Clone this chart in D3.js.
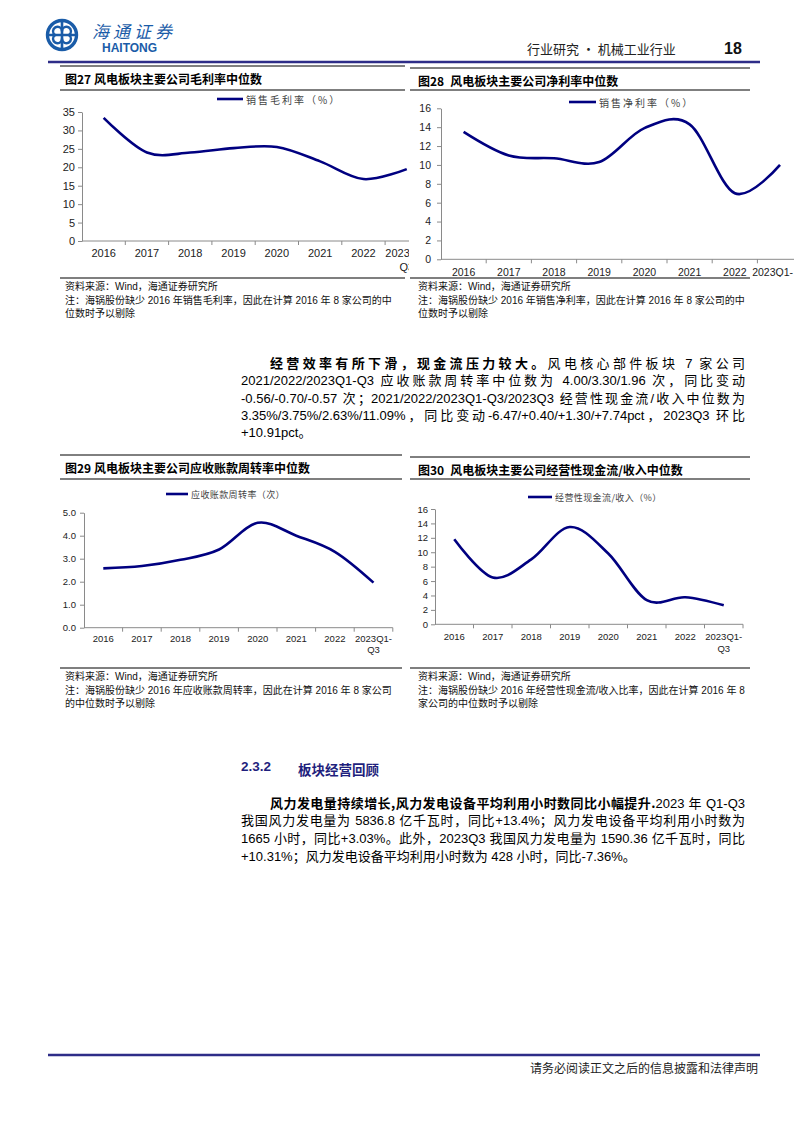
<!DOCTYPE html>
<html><head><meta charset="utf-8">
<script src="https://cdn.jsdelivr.net/npm/d3@7"></script>
<style>
body{margin:0;width:794px;height:1123px;position:relative;background:#fff;overflow:hidden;
 font-family:"Liberation Sans",Arial,"Noto Sans CJK SC",sans-serif;}
svg{position:absolute;left:0;top:0}
.ln{position:absolute;left:241px;width:504px;height:18px;line-height:18px;font-size:13px;
 text-align:justify;text-align-last:justify;color:#000;white-space:normal}
.ln.last{text-align-last:left}
.b{font-weight:700;font-family:"Noto Sans CJK SC",sans-serif}
.h{position:absolute;font-size:13.5px;font-weight:700;color:#1f1f7d;font-family:"Liberation Sans","Noto Sans CJK SC",sans-serif}
</style></head><body>
<svg id="page" width="794" height="1123"></svg>

<div class="ln" style="top:354px;left:270px;width:475px"><span class="b">经营效率有所下滑，现金流压力较大。</span>风电核心部件板块 7 家公司</div>
<div class="ln" style="top:372px">2021/2022/2023Q1-Q3 应收账款周转率中位数为 4.00/3.30/1.96 次，同比变动</div>
<div class="ln" style="top:390px">-0.56/-0.70/-0.57 次；2021/2022/2023Q1-Q3/2023Q3 经营性现金流/收入中位数为</div>
<div class="ln" style="top:407px">3.35%/3.75%/2.63%/11.09%，同比变动-6.47/+0.40/+1.30/+7.74pct，2023Q3 环比</div>
<div class="ln last" style="top:424px">+10.91pct。</div>

<div class="h" style="left:241px;top:759px">2.3.2</div>
<div class="h" style="left:298px;top:759px">板块经营回顾</div>

<div class="ln" style="top:794px;left:270px;width:475px"><span class="b">风力发电量持续增长,风力发电设备平均利用小时数同比小幅提升.</span>2023 年 Q1-Q3</div>
<div class="ln" style="top:812px">我国风力发电量为 5836.8 亿千瓦时，同比+13.4%；风力发电设备平均利用小时数为</div>
<div class="ln" style="top:830px">1665 小时，同比+3.03%。此外，2023Q3 我国风力发电量为 1590.36 亿千瓦时，同比</div>
<div class="ln last" style="top:848px">+10.31%；风力发电设备平均利用小时数为 428 小时，同比-7.36%。</div>

<script>
// ---------- data ----------
const categories = ["2016","2017","2018","2019","2020","2021","2022","2023Q1-Q3"];
const grossMargin = [33.4, 24.0, 24.0, 25.2, 25.5, 21.6, 16.8, 19.5];
const netMargin = [13.5, 11.0, 10.7, 10.3, 13.9, 14.3, 7.0, 10.0];
const arTurnover = [2.58, 2.68, 2.95, 3.40, 4.56, 4.00, 3.30, 1.96];
const cashflowRatio = [11.8, 6.5, 9.0, 13.5, 9.82, 3.35, 3.75, 2.63];
const ticks27 = [0,5,10,15,20,25,30,35];
const ticks28 = [0,2,4,6,8,10,12,14,16];
const ticks29 = [0,1,2,3,4,5];
const ticks30 = [0,2,4,6,8,10,12,14,16];

const svg = d3.select("#page");
const BLUE = "#2e2d88", LINE = "#000080", AX = "#8a8a8a";
const CJK = "'Noto Sans CJK SC',sans-serif";
const LAT = "'Liberation Sans',Arial,'Noto Sans CJK SC',sans-serif";

// ---------- header ----------
const logo = svg.append("g").attr("fill","none").attr("stroke","#1a5ca8").attr("stroke-linecap","round");
logo.append("circle").attr("cx",62).attr("cy",35).attr("r",14.5).attr("stroke-width",3.4);
logo.append("path").attr("d","M50,35 H74").attr("stroke-width",2.6);
logo.append("path").attr("d","M62,22 V48").attr("stroke-width",2.6);
logo.append("path").attr("d","M55,35 a4.5,4.5 0 1 1 7,-4").attr("stroke-width",2.4);
logo.append("path").attr("d","M69,35 a4.5,4.5 0 1 1 -7,4").attr("stroke-width",2.4);
logo.append("path").attr("d","M55,35 a4.5,4.5 0 1 0 7,4").attr("stroke-width",2.4);
logo.append("path").attr("d","M69,35 a4.5,4.5 0 1 0 -7,-4").attr("stroke-width",2.4);
svg.append("text").attr("x",92).attr("y",38).attr("font-family",CJK).attr("font-size",17)
  .attr("font-style","italic").attr("letter-spacing",4).attr("fill","#1a5ca8").text("海通证券");
svg.append("text").attr("x",102).attr("y",52).attr("font-family",LAT).attr("font-size",12)
  .attr("font-weight",700).attr("fill","#1a5ca8").text("HAITONG");
svg.append("text").attr("x",527).attr("y",54).attr("font-family",CJK).attr("font-size",13)
  .attr("fill","#222").text("行业研究 · 机械工业行业");
svg.append("text").attr("x",724).attr("y",54).attr("font-family",LAT).attr("font-size",16)
  .attr("font-weight",700).attr("fill","#111").text("18");
svg.append("line").attr("x1",48).attr("x2",760).attr("y1",62).attr("y2",62).attr("stroke",BLUE).attr("stroke-width",2.6);

// footer
svg.append("line").attr("x1",48).attr("x2",760).attr("y1",1055).attr("y2",1055).attr("stroke",BLUE).attr("stroke-width",2.6);
svg.append("text").attr("x",758).attr("y",1073).attr("text-anchor","end").attr("font-family",CJK)
  .attr("font-size",12).attr("fill","#222").text("请务必阅读正文之后的信息披露和法律声明");

// ---------- chart helper ----------
let clipId = 0;
function hr(x1,x2,y,w){ svg.append("line").attr("x1",x1).attr("x2",x2).attr("y1",y).attr("y2",y)
  .attr("stroke","#000").attr("stroke-width",w||1); }

function chart(c){
  hr(c.fx1, c.fx2, c.topRule, 1);
  hr(c.fx1, c.fx2, c.titleRule, 1.2);
  hr(c.fx1, c.fx2, c.bottomRule, 1.2);
  svg.append("text").attr("x",c.tx).attr("y",c.titleY).attr("font-family",CJK).attr("font-size",12)
    .attr("font-weight",700).attr("fill","#000").attr("xml:space","preserve").text(c.title);
  c.notes.forEach((t,i)=>{
    svg.append("text").attr("x",c.tx).attr("y",c.noteY + i*13.5).attr("font-family",LAT)
      .attr("font-size",10).attr("fill","#111").text(t);
  });

  const id = "clip"+(clipId++);
  svg.append("clipPath").attr("id",id).append("rect")
    .attr("x",c.fx1-40).attr("y",c.titleRule+1).attr("width",c.clipRight-(c.fx1-40)).attr("height",c.bottomRule-c.titleRule-2);
  const g = svg.append("g").attr("clip-path",`url(#${id})`);

  const x = d3.scaleBand().domain(categories).range([c.x0, c.x0 + c.bw*categories.length]).paddingInner(0).paddingOuter(0);
  const y = d3.scaleLinear().domain([0, c.ymax]).range([c.y0, c.yTop]);

  const ya = g.append("g").attr("transform",`translate(${c.x0},0)`)
    .call(d3.axisLeft(y).tickValues(c.ticks).tickFormat(c.fmt).tickSize(c.tick).tickSizeOuter(0).tickPadding(c.ypad));
  ya.select(".domain").attr("stroke",AX);
  ya.selectAll(".tick line").attr("stroke",AX);
  ya.selectAll("text").attr("font-family",LAT).attr("font-size",c.fs).attr("fill","#222");

  const xa = g.append("g").attr("transform",`translate(0,${c.y0})`)
    .call(d3.axisBottom(x).tickSize(0).tickFormat(""));
  xa.select(".domain").attr("stroke",AX).attr("d",`M${c.x0},0H${c.x0+c.bw*categories.length}`);
  g.selectAll(null).data(categories).enter().append("line")
    .attr("x1",d=>x(d)+x.bandwidth()).attr("x2",d=>x(d)+x.bandwidth())
    .attr("y1",c.y0).attr("y2",c.y0+4).attr("stroke",AX);

  categories.forEach(d=>{
    const parts = d==="2023Q1-Q3" ? ["2023Q1-","Q3"] : [d];
    parts.forEach((p,i)=>{
      const t = g.append("text").attr("x",x(d)+x.bandwidth()/2).attr("y",c.labY + i*c.labGap)
        .attr("text-anchor","middle").attr("dominant-baseline","central")
        .attr("font-family",LAT).attr("font-size",c.fs).attr("fill","#222").text(p);
      const w = t.node().getComputedTextLength();
      let left = x(d)+x.bandwidth()/2 - w/2;
      if (c.clampRight && left + w > c.clampRight) {       // label kept inside the plot edge
        left = c.clampRight - w;
        t.attr("x", left).attr("text-anchor","start");
      }
      if (c.cropRight && left + w > c.cropRight) {          // label cut by the cropped picture edge
        let s = p;
        while (s.length > 1 && left + t.text(s).node().getComputedTextLength()
               - t.text(s.slice(-1)).node().getComputedTextLength() >= c.cropRight) s = s.slice(0,-1);
        t.attr("x", left).attr("text-anchor","start").text(s);
      }
    });
  });

  const line = d3.line().x((v,i)=>x(categories[i])+x.bandwidth()/2).y(v=>y(v))
    .curve(d3.curveCardinal.tension(0));
  g.append("path").datum(c.values).attr("d",line).attr("fill","none")
    .attr("stroke",LINE).attr("stroke-width",2.6).attr("stroke-linecap","butt");

  g.append("line").attr("x1",c.lx).attr("x2",c.lx+c.lw).attr("y1",c.ly).attr("y2",c.ly)
    .attr("stroke",LINE).attr("stroke-width",2.6);
  g.append("text").attr("x",c.lx+c.lw+3).attr("y",c.ly).attr("dominant-baseline","central")
    .attr("font-family",CJK).attr("font-size",c.lfs).attr("letter-spacing",c.lsp)
    .attr("fill","#444").text(c.legend);
}

chart({title:"图27 风电板块主要公司毛利率中位数", tx:65, titleY:84, fx1:60, fx2:405,
  topRule:66, titleRule:90, bottomRule:278, noteY:290,
  notes:["资料来源：Wind，海通证券研究所","注：海锅股份缺少 2016 年销售毛利率，因此在计算 2016 年 8 家公司的中","位数时予以剔除"],
  clipRight:409, cropRight:409, x0:82, bw:43.3, y0:241, yTop:112, ymax:35, ticks:ticks27, fmt:d3.format("d"),
  tick:4, ypad:3, fs:11, labY:253, labGap:13.5, values:grossMargin,
  lx:217, lw:26, ly:99, legend:"销售毛利率（%）", lfs:10, lsp:2});

chart({title:"图28\u2002风电板块主要公司净利率中位数", tx:418, titleY:86, fx1:410, fx2:750,
  topRule:68, titleRule:90, bottomRule:278, noteY:290,
  notes:["资料来源：Wind，海通证券研究所","注：海锅股份缺少 2016 年销售净利率，因此在计算 2016 年 8 家公司的中","位数时予以剔除"],
  clipRight:794, clampRight:793, x0:441, bw:45.2, y0:259.3, yTop:108.3, ymax:16, ticks:ticks28, fmt:d3.format("d"),
  tick:4, ypad:6, fs:10.5, labY:272, labGap:13, values:netMargin,
  lx:569, lw:27, ly:102, legend:"销售净利率（%）", lfs:10, lsp:2});

chart({title:"图29 风电板块主要公司应收账款周转率中位数", tx:65, titleY:473, fx1:60, fx2:402,
  topRule:455, titleRule:479, bottomRule:668, noteY:680,
  notes:["资料来源：Wind，海通证券研究所","注：海锅股份缺少 2016 年应收账款周转率，因此在计算 2016 年 8 家公司","的中位数时予以剔除"],
  clipRight:410, x0:84, bw:38.6, y0:627.7, yTop:512.7, ymax:5, ticks:ticks29, fmt:d3.format(".1f"),
  tick:4, ypad:4, fs:9.5, labY:638, labGap:11.5, values:arTurnover,
  lx:166, lw:22, ly:494, legend:"应收账款周转率（次）", lfs:9, lsp:0.4});

chart({title:"图30\u2002风电板块主要公司经营性现金流/收入中位数", tx:418, titleY:475, fx1:410, fx2:750,
  topRule:457, titleRule:479, bottomRule:668, noteY:680,
  notes:["资料来源：Wind，海通证券研究所","注：海锅股份缺少 2016 年经营性现金流/收入比率，因此在计算 2016 年 8","家公司的中位数时予以剔除"],
  clipRight:760, x0:435, bw:38.5, y0:624.3, yTop:509, ymax:16, ticks:ticks30, fmt:d3.format("d"),
  tick:4, ypad:3, fs:9.5, labY:636, labGap:12, values:cashflowRatio,
  lx:528, lw:24, ly:497, legend:"经营性现金流/收入（%）", lfs:9, lsp:0.4});
</script>
</body></html>
